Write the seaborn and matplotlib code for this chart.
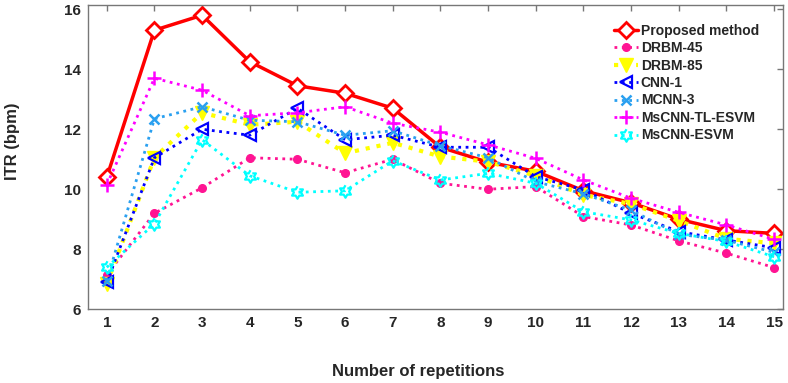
import numpy as np
import pandas as pd
import matplotlib
matplotlib.use("Agg")
import matplotlib.pyplot as plt
import seaborn as sns

repetitions = list(range(1, 16))
proposed      = [10.4, 15.3, 15.8, 14.25, 13.45, 13.2, 12.7, 11.4, 10.9, 10.6, 9.95, 9.55, 9.0, 8.62, 8.53]
drbm45        = [7.15, 9.2, 10.05, 11.05, 11.0, 10.55, 11.0, 10.2, 10.0, 10.09, 9.09, 8.81, 8.28, 7.87, 7.39]
drbm85        = [6.85, 11.05, 12.55, 12.15, 12.25, 11.2, 11.55, 11.09, 10.92, 10.45, 9.81, 9.51, 8.95, 8.35, 8.2]
cnn1          = [6.9, 11.05, 12.0, 11.8, 12.7, 11.65, 11.8, 11.4, 11.4, 10.42, 9.98, 9.2, 8.59, 8.31, 8.05]
mcnn3         = [6.95, 12.35, 12.75, 12.3, 12.25, 11.8, 11.95, 11.45, 11.05, 10.25, 9.85, 9.3, 8.5, 8.3, 7.9]
mscnn_tl_esvm = [10.15, 13.7, 13.3, 12.45, 12.55, 12.75, 12.2, 11.9, 11.48, 11.03, 10.31, 9.7, 9.23, 8.81, 8.33]
mscnn_esvm    = [7.4, 8.85, 11.65, 10.45, 9.9, 9.95, 10.95, 10.31, 10.53, 10.2, 9.25, 8.98, 8.53, 8.26, 7.75]

series_names = ["Proposed method", "DRBM-45", "DRBM-85", "CNN-1", "MCNN-3", "MsCNN-TL-ESVM", "MsCNN-ESVM"]
series_values = [proposed, drbm45, drbm85, cnn1, mcnn3, mscnn_tl_esvm, mscnn_esvm]
x_ticks = list(range(1, 16))
y_ticks = [6, 8, 10, 12, 14, 16]

sns.set_style("white")
plt.rcParams['font.family'] = ['Liberation Sans', 'DejaVu Sans']
plt.rcParams['font.weight'] = 'bold'

# six-pointed star (hexagram) marker
ang = np.deg2rad(np.arange(12) * 30 + 90)
rad = np.where(np.arange(12) % 2 == 0, 1.0, 0.577)
hexagram = list(zip(rad * np.cos(ang), rad * np.sin(ang)))

styles = [
    dict(color="#ff0000", linestyle="-", linewidth=2.5, marker="D", markersize=8, markerfacecolor="white", markeredgecolor="#ff0000", markeredgewidth=2.0),
    dict(color="#ff1493", linestyle=":", linewidth=2.0, marker="o", markersize=5.5, markerfacecolor="#ff1493", markeredgecolor="#ff1493", markeredgewidth=1.0),
    dict(color="#ffff00", linestyle=":", linewidth=3.0, marker="v", markersize=10, markerfacecolor="#ffff00", markeredgecolor="#ffff00", markeredgewidth=1.0),
    dict(color="#0000ff", linestyle=":", linewidth=2.0, marker="<", markersize=8, markerfacecolor="none", markeredgecolor="#0000ff", markeredgewidth=1.6),
    dict(color="#2aa0f0", linestyle=":", linewidth=2.0, marker="x", markersize=7, markeredgecolor="#2aa0f0", markeredgewidth=1.8),
    dict(color="#ff00ff", linestyle=":", linewidth=2.0, marker="+", markersize=10, markeredgecolor="#ff00ff", markeredgewidth=1.8),
    dict(color="#00ffff", linestyle=":", linewidth=2.0, marker=hexagram, markersize=9, markerfacecolor="none", markeredgecolor="#00ffff", markeredgewidth=1.6),
]

fig = plt.figure(figsize=(7.88, 3.83), dpi=100)
ax = fig.add_axes([0.1113, 0.1924, 0.8820, 0.7953])

handles = []
for i, (name, vals) in enumerate(zip(series_names, series_values)):
    df = pd.DataFrame({"rep": repetitions, "itr": vals})
    n_before = len(ax.lines)
    sns.lineplot(data=df, x="rep", y="itr", ax=ax, legend=False)
    line = ax.lines[n_before]
    line.set(**styles[i])
    line.set_linestyle(styles[i]["linestyle"])
    line.set_zorder(2 + i)
    line.set_label(name)
    handles.append(line)

ax.set_xlim(0.6, 15.18)
ax.set_ylim(6, 16.15)
ax.set_xticks(x_ticks)
ax.set_yticks(y_ticks)
ax.set_xticklabels([str(t) for t in x_ticks], fontsize=11, fontweight='bold')
ax.set_yticklabels([str(t) for t in y_ticks], fontsize=11, fontweight='bold')
ax.tick_params(direction='in', length=4, width=1, color='#777777', top=True, right=True, pad=5)
for s in ax.spines.values():
    s.set_color('#777777')
    s.set_linewidth(1.0)

ax.set_xlabel("Number of repetitions", fontsize=12, fontweight='bold')
ax.xaxis.label.set_va('center')
ax.xaxis.set_label_coords(0.475, -0.205)
ax.set_ylabel("ITR (bpm)", fontsize=12, fontweight='bold')
ax.yaxis.label.set_va('center')
ax.yaxis.set_label_coords(-0.108, 0.553)

leg = ax.legend(handles=handles, labels=series_names, loc='upper right', frameon=False,
                fontsize=10, handlelength=1.75, handletextpad=0.2, labelspacing=0.25,
                borderaxespad=0.3, bbox_to_anchor=(0.98, 0.97))
for t in leg.get_texts():
    t.set_fontweight('bold')

fig.savefig("out.png", dpi=100)
